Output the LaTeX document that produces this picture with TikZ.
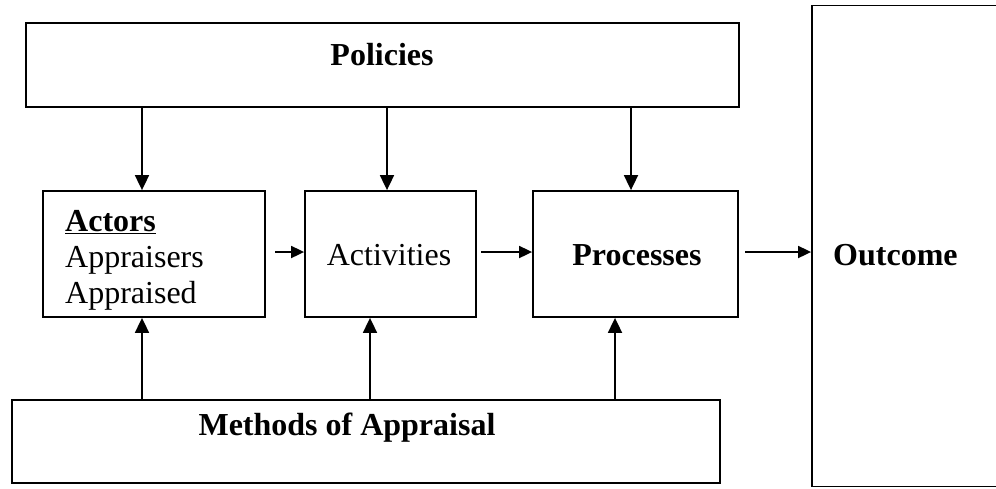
\documentclass[tikz,border=0pt]{standalone}
\usepackage{fontspec}
\setmainfont{Liberation Serif}
\usetikzlibrary{arrows.meta}

\begin{document}
\begin{tikzpicture}[x=1pt, y=-1pt, font=\fontsize{32}{36}\selectfont,
    box/.style={draw, line width=1.8pt, rectangle, inner sep=0pt},
    title/.style={font=\fontsize{32}{36}\selectfont\bfseries},
    feed/.style={line width=1.8pt, -{Triangle[length=15pt, width=14pt]}},
    flow/.style={line width=1.8pt, -{Triangle[length=13pt, width=12pt]}}]
  \useasboundingbox (0,0) rectangle (996,488);
  \clip (0,0) rectangle (996,488);

  % Boxes
  \node[box, minimum width=713pt, minimum height=84pt] (policies) at (382.5,65) {};
  \node[box, minimum width=222pt, minimum height=126pt] (actors) at (154,254) {};
  \node[box, minimum width=171pt, minimum height=126pt] (activities) at (390.5,254) {};
  \node[box, minimum width=205pt, minimum height=126pt] (processes) at (635.5,254) {};
  \node[box, minimum width=708pt, minimum height=83pt] (methods) at (366,441.5) {};
  \node[box, minimum width=200pt, minimum height=481pt] (outcome) at (912,246) {};

  % Labels
  \node[title] at (382,55) {Policies};
  \node[title] at (347,428) {Methods of Appraisal};
  \node[anchor=north west, align=left, inner sep=0pt] at (65,210)
    {\textbf{\underline{Actors}}\\Appraisers\\Appraised};
  \node at (389,255) {Activities};
  \node[title] at (637,255) {Processes};
  \node[title, anchor=west, inner sep=0pt] at (833,255) {Outcome};

  % Policies feed down
  \draw[feed] (policies.south -| 142,0) -- (actors.north -| 142,0);
  \draw[feed] (policies.south -| 387,0) -- (activities.north -| 387,0);
  \draw[feed] (policies.south -| 631,0) -- (processes.north -| 631,0);

  % Methods feed up
  \draw[feed] (methods.north -| 142,0) -- (actors.south -| 142,0);
  \draw[feed] (methods.north -| 370,0) -- (activities.south -| 370,0);
  \draw[feed] (methods.north -| 615,0) -- (processes.south -| 615,0);

  % Main flow
  \coordinate (a-out) at (275,252);
  \coordinate (b-out) at (481,252);
  \coordinate (c-out) at (745,252);
  \draw[flow] (a-out) -- (a-out -| activities.west);
  \draw[flow] (b-out) -- (b-out -| processes.west);
  \draw[flow] (c-out) -- (c-out -| outcome.west);
\end{tikzpicture}
\end{document}
